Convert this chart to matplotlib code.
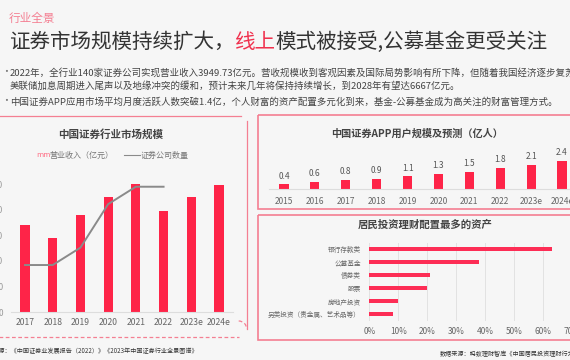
import matplotlib.pyplot as plt
from matplotlib.patches import Rectangle, Arc
import numpy as np

plt.rcParams['font.family'] = ['Noto Sans CJK SC', 'DejaVu Sans']

# ---------------- data ----------------
rev_years = ['2017', '2018', '2019', '2020', '2021', '2022', '2023e', '2024e']
revenue = [3400, 2900, 3790, 4490, 5000, 3950, 4490, 4970]       # 营业收入（亿元）
firm_count = [131, 131, 133, 138, 140, 140]                     # 证券公司数量 2017-2022

app_years = ['2015', '2016', '2017', '2018', '2019', '2020', '2021', '2022', '2023e', '2024e']
app_users = [0.4, 0.6, 0.8, 0.9, 1.1, 1.3, 1.5, 1.8, 2.1, 2.4]  # 亿人

asset_labels = ['银行存款类', '公募基金', '债券类', '股票', '房地产投资', '另类投资（贵金属、艺术品等）']
asset_share = [0.63, 0.38, 0.21, 0.20, 0.10, 0.08]

# ---------------- colours ----------------
BG = '#f6f6f6'
RED = '#fe2448'
PINK = '#f47f92'
GRAY = '#8a8a8a'
TXT = '#333333'

W, H = 570, 360
fig = plt.figure(figsize=(W / 100, H / 100), dpi=100, facecolor=BG)
renderer = fig.canvas.get_renderer()


def px_axes(left, top, right, bottom):
    return fig.add_axes([left / W, 1 - bottom / H, (right - left) / W, (bottom - top) / H])


# overlay for decoration / text (pixel coords)
ov = fig.add_axes([0, 0, 1, 1], zorder=0)
ov.set_xlim(0, W)
ov.set_ylim(H, 0)
ov.axis('off')

# header
ov.text(9, 18, '行业全景', color=PINK, fontsize=8.4, va='center')
x = 9
for part, col in [('证券市场规模持续扩大，', TXT), ('线上', '#f0314e'), ('模式被接受,公募基金更受关注', TXT)]:
    t = ov.text(x, 42, part, color=col, fontsize=14.8, va='center')
    x = t.get_window_extent(renderer=renderer).x1

ov.text(1, 72, '·', color='#777777', fontsize=7, va='center')
ov.text(10, 73, '2022年，全行业140家证券公司实现营业收入3949.73亿元。营收规模收到客观因素及国际局势影响有所下降，但随着我国经济逐步复苏、',
        color='#444444', fontsize=6.8, va='center')
ov.text(10, 86, '美联储加息周期进入尾声以及地缘冲突的缓和，预计未来几年将保持持续增长，到2028年有望达6667亿元。',
        color='#444444', fontsize=6.8, va='center')
ov.text(1, 101, '·', color='#777777', fontsize=7, va='center')
ov.text(10, 102, '中国证券APP应用市场平均月度活跃人数突破1.4亿，个人财富的资产配置多元化到来，基金-公募基金成为高关注的财富管理方式。',
        color='#444444', fontsize=6.8, va='center')

# left panel border (solid top/right, dashed bottom corner)
ov.plot([-5, 241], [116, 116], color=PINK, lw=0.9)
ov.plot([246.7, 246.7], [121, 329], color=PINK, lw=0.9)
ov.add_patch(Arc((238.7, 329), 16, 16, theta1=270, theta2=360, color=PINK, lw=0.9, ls=(0, (3, 2))))
ov.plot([-5, 238.7], [337, 337], color=PINK, lw=0.9, ls=(0, (3, 2)))

# right panels
ov.add_patch(Rectangle((258.3, 115), 330, 94.3, fill=False, ec=PINK, lw=1.2))
ov.add_patch(Rectangle((258.3, 215), 330, 125, fill=False, ec=PINK, lw=1.2))

# left chart title and legend
ov.text(111, 134, '中国证券行业市场规模', color='#444444', fontsize=7.6, fontweight='bold', ha='center', va='center')
ov.text(36, 155, 'mm', color='#ff6f86', fontsize=5.6, va='center')
ov.text(49, 155, '营业收入（亿元）', color='#777777', fontsize=5.8, va='center')
ov.plot([124, 140], [155, 155], color=GRAY, lw=0.8)
ov.text(141, 155, '证券公司数量', color='#777777', fontsize=5.8, va='center')

ov.text(417, 134, '中国证券APP用户规模及预测（亿人）', color='#444444', fontsize=7.3, fontweight='bold', ha='center', va='center')
ov.text(425, 225, '居民投资理财配置最多的资产', color='#444444', fontsize=7.5, fontweight='bold', ha='center', va='center')

# sources
ov.text(-19, 351, '数据来源：《中国证券业发展报告（2022）》《2023年中国证券行业全景图谱》', color=TXT, fontsize=4.4, va='center')
ov.text(440, 354, '数据来源：蚂蚁理财智库《中国居民投资理财行为调研报告》', color=TXT, fontsize=4.4, va='center')

# ---------------- left chart: revenue bars + firm count line ----------------
ax1 = px_axes(11, 178.9, 233, 312)
ax1.set_facecolor('none')
x1 = np.arange(len(rev_years))
ax1.bar(x1, revenue, width=0.33, color=RED, zorder=2)
ax1.set_xlim(-0.505, len(rev_years) - 0.495)
ax1.set_ylim(0, 5200)
ax1.set_yticks(np.arange(0, 5001, 1000))
ax1.set_xticks(x1)
ax1.set_xticklabels(rev_years)
ax1.tick_params(axis='x', length=0, pad=4.3, labelsize=6.2, labelcolor='#666666')
ax1.tick_params(axis='y', length=0, pad=5.8, labelsize=6, labelcolor='#999999')
for s in ['top', 'right', 'left']:
    ax1.spines[s].set_visible(False)
ax1.spines['bottom'].set_color('#dddddd')

ax1b = ax1.twinx()
ax1b.plot(x1[:len(firm_count)], firm_count, color=GRAY, lw=1.4, zorder=3)
ax1b.set_ylim(125.6, 140.9)
ax1b.axis('off')

# ---------------- top right: APP users ----------------
ax2 = px_axes(268.5, 150, 577.5, 189)
ax2.set_facecolor('none')
x2 = np.arange(len(app_years))
ax2.bar(x2, app_users, width=0.3, color=RED)
for xi, v in zip(x2, app_users):
    ax2.annotate(f'{v:.1f}', (xi, v), xytext=(0, 2.6), textcoords='offset points',
                 ha='center', va='bottom', fontsize=6, color='#555555')
ax2.set_xlim(-0.5, len(app_years) - 0.5)
ax2.set_ylim(0, 3.35)
ax2.set_xticks(x2)
ax2.set_xticklabels(app_years)
ax2.set_yticks([])
ax2.tick_params(axis='x', length=0, pad=5.5, labelsize=6, labelcolor='#666666')
for s in ['top', 'right', 'left']:
    ax2.spines[s].set_visible(False)
ax2.spines['bottom'].set_color('#dddddd')

# ---------------- bottom right: asset allocation ----------------
ax3 = px_axes(369.3, 242.5, 572.3, 320.5)
ax3.set_facecolor('none')
y3 = np.arange(len(asset_labels))
ax3.barh(y3, asset_share, height=0.36, color='#fd2d55', zorder=2)
ax3.set_xlim(0, 0.7)
ax3.set_ylim(len(asset_labels) - 0.5, -0.5)
ax3.set_xticks(np.arange(0, 0.71, 0.1))
ax3.set_xticklabels([f'{int(round(t * 100))}%' for t in np.arange(0, 0.71, 0.1)])
ax3.set_yticks(y3)
ax3.set_yticklabels(asset_labels)
ax3.grid(axis='x', color='#e2e2e2', lw=0.7, zorder=0)
ax3.tick_params(axis='x', length=0, pad=5, labelsize=6, labelcolor='#666666')
ax3.tick_params(axis='y', length=0, pad=6.2, labelsize=4.8, labelcolor='#666666')
for s in ax3.spines.values():
    s.set_visible(False)

fig.savefig('out.png', dpi=100, facecolor=BG)
